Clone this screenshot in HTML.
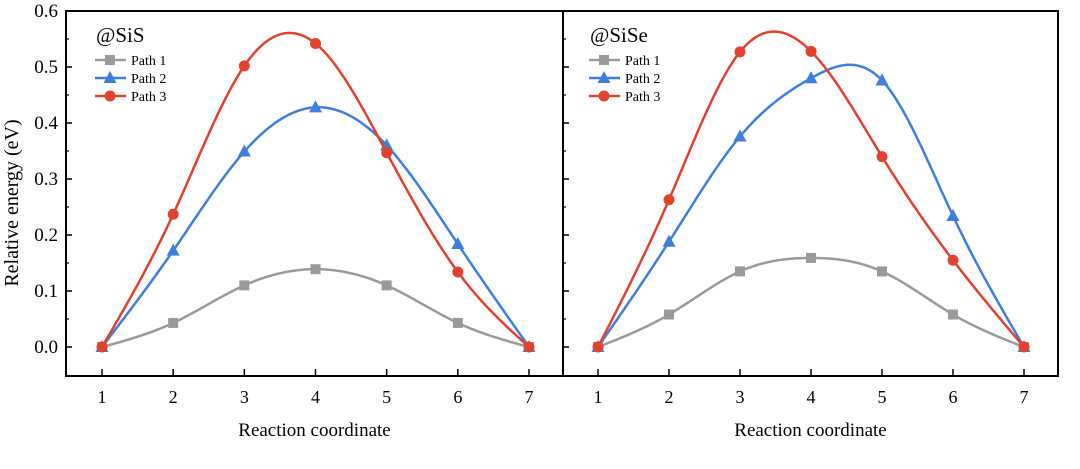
<!DOCTYPE html>
<html><head><meta charset="utf-8"><style>
body{margin:0;background:#fff}
svg{display:block;font-family:"Liberation Serif",serif}
</style></head><body>
<svg id="chart" width="1080" height="469" viewBox="0 0 1080 469">
<rect x="0" y="0" width="1080" height="469" fill="#fff"/>
<g id="g"></g>
</svg>
<script>
const categories=[1,2,3,4,5,6,7];
const yTicks=[0.0,0.1,0.2,0.3,0.4,0.5,0.6];
const yTickLabels=["0.0","0.1","0.2","0.3","0.4","0.5","0.6"];
const seriesNames=["Path 1","Path 2","Path 3"];
const sisPath1=[0,0.043,0.11,0.139,0.11,0.043,0];
const sisPath2=[0,0.172,0.349,0.428,0.36,0.184,0];
const sisPath3=[0,0.237,0.502,0.542,0.347,0.134,0];
const siSePath1=[0,0.058,0.135,0.159,0.135,0.058,0];
const siSePath2=[0,0.188,0.376,0.48,0.476,0.234,0];
const siSePath3=[0,0.263,0.527,0.528,0.34,0.155,0];
const colors=["#9a9a9a","#3f7fdc","#e0422f"];
const NS="http://www.w3.org/2000/svg";
const gRoot=document.getElementById('g');
function el(t,a,p){const e=document.createElementNS(NS,t);for(const k in a)e.setAttribute(k,a[k]);(p||gRoot).appendChild(e);return e;}
const plotTop=11,plotBot=376;
function yS(v){return 347-560*v;}
function spline(xs,ys){
const n=xs.length,h=[],al=[],l=[],mu=[],z=[],c=new Array(n).fill(0),b=[],d=[];
for(let i=0;i<n-1;i++)h[i]=xs[i+1]-xs[i];
l[0]=1;mu[0]=0;z[0]=0;
for(let i=1;i<n-1;i++){al[i]=3/h[i]*(ys[i+1]-ys[i])-3/h[i-1]*(ys[i]-ys[i-1]);
l[i]=2*(xs[i+1]-xs[i-1])-h[i-1]*mu[i-1];mu[i]=h[i]/l[i];z[i]=(al[i]-h[i-1]*z[i-1])/l[i];}
c[n-1]=0;
for(let j=n-2;j>=0;j--){c[j]=z[j]-mu[j]*c[j+1];}
for(let j=0;j<n-1;j++){b[j]=(ys[j+1]-ys[j])/h[j]-h[j]*(c[j+1]+2*c[j])/3;d[j]=(c[j+1]-c[j])/(3*h[j]);}
return x=>{let j=Math.min(n-2,Math.max(0,Math.floor(x-xs[0])));const dx=x-xs[j];return ys[j]+b[j]*dx+c[j]*dx*dx+d[j]*dx*dx*dx;};}
function marker(k,x,y,p,name){let m;
if(k===0)m=el('rect',{x:x-5,y:y-5,width:10,height:10,fill:colors[0]},p);
else if(k===1)m=el('polygon',{points:`${x},${y-7} ${x+6.5},${y+5} ${x-6.5},${y+5}`,fill:colors[1]},p);
else m=el('circle',{cx:x,cy:y,r:5.5,fill:colors[2]},p);

}
function panel(pid,x0,x1,xa,xb,label,data,lx){
const p=el('g',{});


const xS=c=>xa+(c-1)*(xb-xa)/6;
yTicks.forEach((v,i)=>{const y=yS(v);el('line',{x1:x0,x2:x0+6,y1:y,y2:y,stroke:'#000','stroke-width':1.5},p);
if(i<6){const ym=yS(v+0.05);el('line',{x1:x0,x2:x0+3,y1:ym,y2:ym,stroke:'#000','stroke-width':1.2},p);}});
categories.forEach(c=>{const x=xS(c);el('line',{x1:x,x2:x,y1:plotBot,y2:plotBot-7,stroke:'#000','stroke-width':1.5},p);
const t=el('text',{x:x,y:403,'text-anchor':'middle','font-size':18},p);t.textContent=c;

});
const xt=el('text',{x:(x0+x1)/2,y:436,'text-anchor':'middle','font-size':19},p);xt.textContent='Reaction coordinate';


data.forEach((ys,k)=>{const f=spline(categories,ys);let d='';
for(let x=1;x<=7.0001;x+=0.02){d+=(d?'L':'M')+xS(x).toFixed(1)+','+yS(f(x)).toFixed(1);}
const pa=el('path',{d:d,fill:'none',stroke:colors[k],'stroke-width':2.5},p);


ys.forEach((v,i)=>marker(k,xS(categories[i]),yS(v),p,'point-path-'+(k+1)));});
const lt=el('text',{x:lx,y:42,'font-size':21},p);lt.textContent=label;


seriesNames.forEach((s,k)=>{const y=60+k*18;
const lg=el('g',{},p);


el('line',{x1:lx-1,x2:lx+30,y1:y,y2:y,stroke:colors[k],'stroke-width':2.5},lg);
marker(k,lx+14,y,lg,'legend-marker');
const t=el('text',{x:lx+35,y:y+5,'font-size':14},lg);t.textContent=s;});
}
panel('sis-panel',66,563,102,529,'@SiS',[sisPath1,sisPath2,sisPath3],96);
panel('sise-panel',563,1058,598,1024,'@SiSe',[siSePath1,siSePath2,siSePath3],590);
el('rect',{x:66,y:plotTop,width:992,height:plotBot-plotTop,fill:'none',stroke:'#000','stroke-width':2});
el('line',{x1:563,x2:563,y1:plotTop,y2:plotBot,stroke:'#000','stroke-width':2});
yTicks.forEach((v,i)=>{const t=el('text',{x:58,y:yS(v)+6,'text-anchor':'end','font-size':19});t.textContent=yTickLabels[i];

});
const yt=el('text',{x:0,y:0,'text-anchor':'middle','font-size':20,transform:'translate(18,203) rotate(-90)'});
yt.textContent='Relative energy (eV)';


</script>
</body></html>
